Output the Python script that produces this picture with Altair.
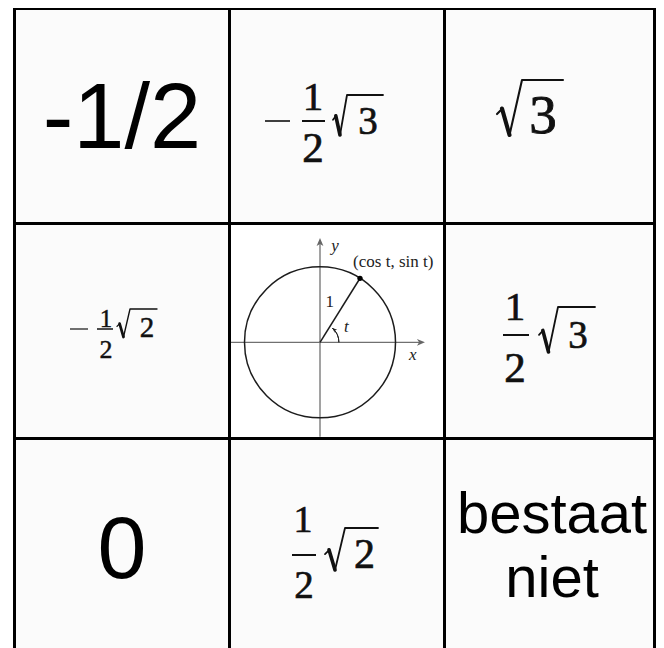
import math
import altair as alt
import pandas as pd

# ---------------- data ----------------
plain_text = ["-1/2", "0", "bestaat\nniet"]
plain_row = [0, 2, 2]
plain_col = [0, 0, 2]

math_row = [0, 0, 1, 1, 2]
math_col = [1, 2, 0, 2, 1]
math_sign = ["-", "", "-", "", ""]
math_num = ["1", "", "1", "1", "1"]
math_den = ["2", "", "2", "2", "2"]
math_radicand = ["3", "3", "2", "3", "2"]

diagram_row, diagram_col = 1, 1
angle_t_deg = 58
diagram_axis_x = [-1.2, 1.39]
diagram_axis_y = [-1.25, 1.38]
diagram_labels = ["y", "(cos t, sin t)", "1", "t", "x"]
diagram_label_x = [0.2, 0.97, 0.13, 0.35, 1.23]
diagram_label_y = [1.27, 1.06, 0.53, 0.2, -0.17]
diagram_label_italic = [True, False, False, True, True]

# ---------------- layout / style ----------------
CELL = 215
N = 3
SERIF = "Liberation Serif"
SANS = "Liberation Sans"
INK = "#111111"
VIEW_W, VIEW_H = 648, 640
X0, Y0 = 6.5, 0.5          # grid origin inside the view (px)

# offsets (px) from the cell centre, sizes in px
plain_layout = [(0, 32, 92, 0), (0, 32, 88, 0), (0, -13, 58, 64)]
math_layout = [
    dict(minus=(-72, -47, 5), num=(-24, -6, 41), bar=(-35, -12, 5), den=(-24, 46, 43),
         rad=(-4, 10, -21, 19), over=46, rc=(31, 18, 39), sw=2.0),
    dict(rad=(-55, -30, -36, 19), over=11, rc=(-9, 17, 55), sw=2.3),
    dict(minus=(-52, -34, -2), num=(-16, -4, 25), bar=(-25, -9, -2), den=(-16, 27, 26),
         rad=(-5, 8, -22, 6), over=35, rc=(25, 6, 29), sw=1.5),
    dict(num=(-37, -11, 41), bar=(-49, -23, 4), den=(-37, 51, 43),
         rad=(-13, 6, -24, 21), over=43, rc=(26, 17, 39), sw=2.0),
    dict(num=(-34, -14, 38), bar=(-45, -21, 9), den=(-33, 52, 39),
         rad=(-12, 8, -18, 24), over=41, rc=(27.5, 22, 42), sw=2.0),
]
diag_offset = (-17, 11.3)
R = 75.5

xs = alt.Scale(domain=[-X0, VIEW_W - X0], nice=False, zero=False)
ys = alt.Scale(domain=[-Y0, VIEW_H - Y0], nice=False, zero=False, reverse=True)
x_visible_max = VIEW_W - X0 - 1.5   # keep the outer right border inside the page


def X(f):
    return alt.X(f, type="quantitative", scale=xs, axis=None)


def Y(f):
    return alt.Y(f, type="quantitative", scale=ys, axis=None)


# ---------------- cells & grid ----------------
cells = []
for r in range(N):
    for c in range(N):
        cells.append(dict(x=c * CELL, x2=(c + 1) * CELL, y=r * CELL, y2=(r + 1) * CELL,
                          fill="#ffffff" if (r, c) == (diagram_row, diagram_col) else "#fbfbfb"))
cells = pd.DataFrame(cells)

grid = []
for k in range(N + 1):
    gxk = min(k * CELL, x_visible_max)
    grid.append(dict(x=gxk, x2=gxk, y=0, y2=N * CELL))
    grid.append(dict(x=0, x2=min(N * CELL, x_visible_max), y=k * CELL, y2=k * CELL))
grid = pd.DataFrame(grid)

# ---------------- plain text ----------------
plain = []
for t, r, c, (dx, dy, fs, lh) in zip(plain_text, plain_row, plain_col, plain_layout):
    plain.append(dict(x=c * CELL + CELL / 2 + dx, y=r * CELL + CELL / 2 + dy, text=t, fs=fs))
plain = pd.DataFrame(plain)

# ---------------- math cells ----------------
m_rules, m_text, m_rad = [], [], []
seg = 0
for i, (r, c, sg, nu, de, rc, L) in enumerate(zip(math_row, math_col, math_sign, math_num,
                                                   math_den, math_radicand, math_layout)):
    cx = c * CELL + CELL / 2
    cy = r * CELL + CELL / 2
    sw = L["sw"]
    if sg:
        a, b, yy = L["minus"]
        m_rules.append(dict(x=cx + a, x2=cx + b, y=cy + yy, y2=cy + yy, sw=sw * 0.8))
    if nu:
        a, b, yy = L["bar"]
        m_rules.append(dict(x=cx + a, x2=cx + b, y=cy + yy, y2=cy + yy, sw=sw))
        px, base, fs = L["num"]
        m_text.append(dict(x=cx + px, y=cy + base, text=nu, fs=fs, ow=fs / 60))
        px, base, fs = L["den"]
        m_text.append(dict(x=cx + px, y=cy + base, text=de, fs=fs, ow=fs / 60))
    x0, x1, top, bot = L["rad"]
    w = x1 - x0
    h = bot - top

    def P(u, v):
        return cx + x0 + u * w, cy + top + v * h

    # radical sign: short tick, heavy down stroke, thin up stroke + vinculum
    pieces = [
        ([P(0, 0.62), P(0.22, 0.52)], sw * 0.9),
        ([P(0.2, 0.52), P(0.5, 1.0)], sw * 1.8),
        ([P(0.5, 1.0), P(1.0, 0.0), (cx + L["over"], cy + top)], sw * 0.9),
    ]
    for pts, width in pieces:
        for j, (px_, py_) in enumerate(pts):
            m_rad.append(dict(id=seg, i=j, x=px_, y=py_, sw=width))
        seg += 1
    px, base, fs = L["rc"]
    m_text.append(dict(x=cx + px, y=cy + base, text=rc, fs=fs, ow=fs / 60))
m_rules = pd.DataFrame(m_rules)
m_text = pd.DataFrame(m_text)
m_rad = pd.DataFrame(m_rad)

# ---------------- unit circle diagram ----------------
dcx = diagram_col * CELL + CELL / 2 + diag_offset[0]
dcy = diagram_row * CELL + CELL / 2 + diag_offset[1]


def gx(v):
    return dcx + R * v


def gy(v):
    return dcy - R * v


t = math.radians(angle_t_deg)
axes_df = pd.DataFrame([
    dict(x=gx(diagram_axis_x[0]), x2=gx(diagram_axis_x[1]) - 3, y=gy(0), y2=gy(0)),
    dict(x=gx(0), x2=gx(0), y=gy(diagram_axis_y[0]), y2=gy(diagram_axis_y[1]) + 3),
])
center_df = pd.DataFrame([dict(x=gx(0), y=gy(0))])
radius_df = pd.DataFrame([dict(x=gx(0), y=gy(0), x2=gx(math.cos(t)), y2=gy(math.sin(t)))])
dot_df = pd.DataFrame([dict(x=gx(math.cos(t)), y=gy(math.sin(t)))])
arc_end = angle_t_deg - 9
arrow_df = pd.DataFrame([
    dict(x=gx(diagram_axis_x[1]), y=gy(0), ang=0, size=64, col="#666666"),
    dict(x=gx(0), y=gy(diagram_axis_y[1]), ang=270, size=64, col="#666666"),
    dict(x=gx(0.25 * math.cos(math.radians(arc_end))), y=gy(0.25 * math.sin(math.radians(arc_end))),
         ang=270 - arc_end, size=22, col="#222222"),
])
labels_df = pd.DataFrame(dict(x=[gx(v) for v in diagram_label_x],
                              y=[gy(v) for v in diagram_label_y],
                              text=diagram_labels, italic=diagram_label_italic))

ARROW = "M0,0L-2,-0.85L-1.45,0L-2,0.85Z"

# ---------------- layers ----------------
l_cells = alt.Chart(cells).mark_rect(strokeWidth=0).encode(
    x=X("x"), x2="x2", y=Y("y"), y2="y2", color=alt.Color("fill:N", scale=None))

l_axes = alt.Chart(axes_df).mark_rule(color="#707070", strokeWidth=1.3).encode(
    x=X("x"), x2="x2", y=Y("y"), y2="y2")

l_circle = alt.Chart(center_df).mark_point(
    shape="circle", size=(2 * R) ** 2, filled=False, color="#1c1c1c", strokeWidth=1.5, opacity=1
).encode(x=X("x"), y=Y("y"))

l_radius = alt.Chart(radius_df).mark_rule(color="#1c1c1c", strokeWidth=1.5).encode(
    x=X("x"), x2="x2", y=Y("y"), y2="y2")

l_arc = alt.Chart(center_df).mark_arc(
    radius=0.25 * R, radius2=0.25 * R,
    theta=math.pi / 2 - math.radians(arc_end), theta2=math.pi / 2,
    filled=False, stroke="#222222", strokeWidth=1.0, fillOpacity=0
).encode(x=X("x"), y=Y("y"))

l_arrows = alt.Chart(arrow_df).mark_point(shape=ARROW, filled=True, opacity=1, strokeWidth=0).encode(
    x=X("x"), y=Y("y"), angle=alt.Angle("ang:Q", scale=None),
    size=alt.Size("size:Q", scale=None), color=alt.Color("col:N", scale=None))

l_dot = alt.Chart(dot_df).mark_point(shape="circle", size=28, filled=True, color="#000000", opacity=1).encode(
    x=X("x"), y=Y("y"))

l_lab_n = alt.Chart(labels_df).transform_filter("!datum.italic").mark_text(
    font=SERIF, fontSize=17, color="#222222", baseline="middle", align="center").encode(
    x=X("x"), y=Y("y"), text="text:N")
l_lab_i = alt.Chart(labels_df).transform_filter("datum.italic").mark_text(
    font=SERIF, fontSize=17, fontStyle="italic", color="#222222", baseline="middle", align="center").encode(
    x=X("x"), y=Y("y"), text="text:N")

l_mrules = alt.Chart(m_rules).mark_rule(color=INK).encode(
    x=X("x"), x2="x2", y=Y("y"), y2="y2", strokeWidth=alt.StrokeWidth("sw:Q", scale=None))

l_mrad = alt.Chart(m_rad).mark_line(color=INK, strokeJoin="round", strokeCap="round").encode(
    x=X("x"), y=Y("y"), detail="id:N", order="i:Q",
    strokeWidth=alt.StrokeWidth("sw:Q", scale=None))

l_mtext = alt.Chart(m_text).mark_text(font=SERIF, color=INK, stroke=INK, baseline="alphabetic",
                                      align="center").encode(
    x=X("x"), y=Y("y"), text="text:N", size=alt.Size("fs:Q", scale=None),
    strokeWidth=alt.StrokeWidth("ow:Q", scale=None))

l_plain = alt.Chart(plain).mark_text(font=SANS, color="#000000", baseline="alphabetic", align="center",
                                     lineBreak="\n", lineHeight=64).encode(
    x=X("x"), y=Y("y"), text="text:N", size=alt.Size("fs:Q", scale=None))

l_grid = alt.Chart(grid).mark_rule(color="#000000", strokeWidth=3, strokeCap="square").encode(
    x=X("x"), x2="x2", y=Y("y"), y2="y2")

chart = alt.layer(
    l_cells, l_axes, l_circle, l_radius, l_arc, l_arrows, l_dot, l_lab_n, l_lab_i,
    l_mrules, l_mrad, l_mtext, l_plain, l_grid
).properties(
    width=VIEW_W, height=VIEW_H, autosize=alt.AutoSizeParams(type="none"), padding=0
).configure_view(strokeWidth=0)

chart.save("out.html", embed_options={"renderer": "svg", "actions": False})
